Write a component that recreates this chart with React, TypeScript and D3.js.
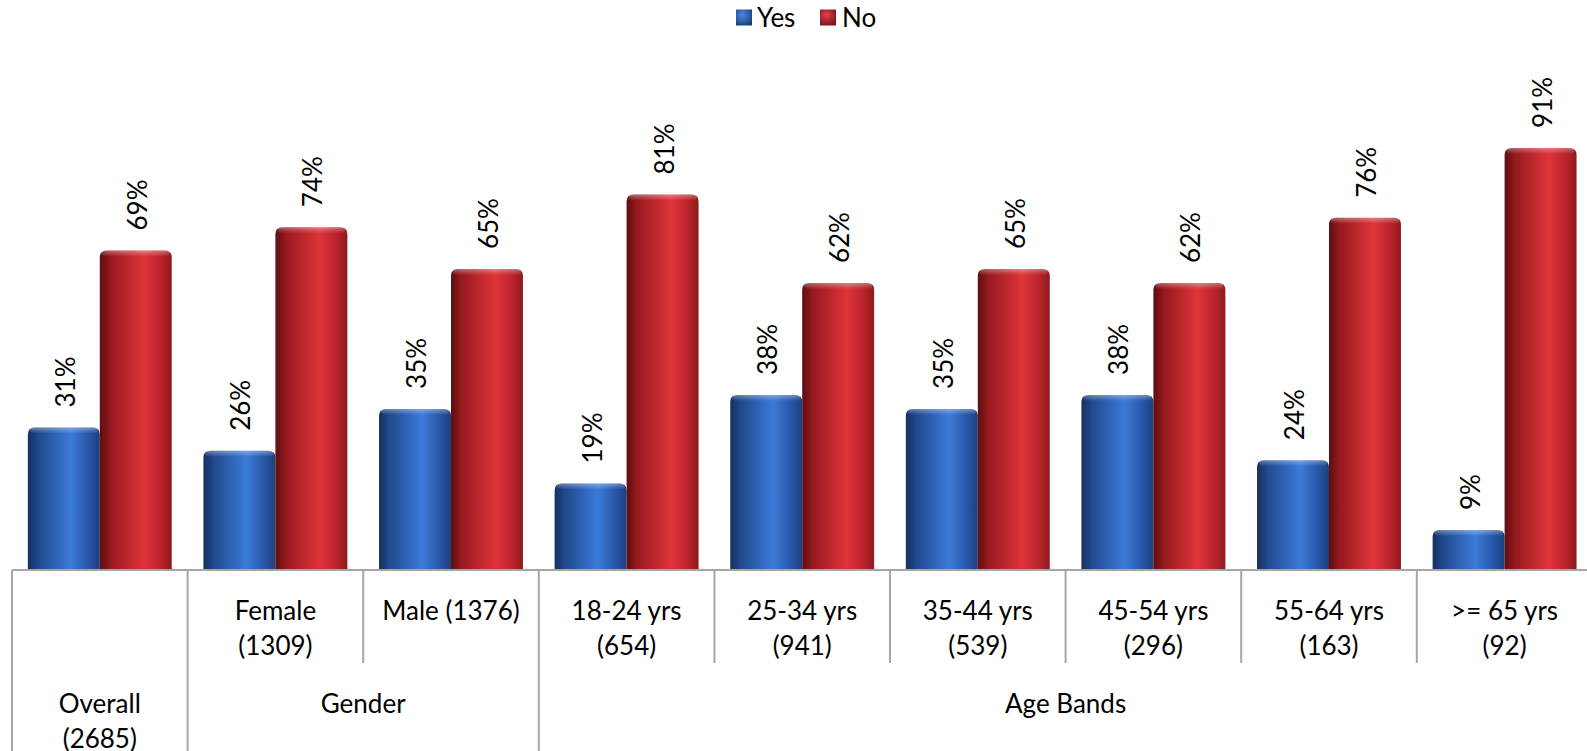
import * as d3 from 'd3'

const categories = ['Overall', 'Female', 'Male', '18-24', '25-34', '35-44', '45-54', '55-64', '>=65']
const tickLines: string[][] = [
  [],
  ['Female', '(1309)'],
  ['Male (1376)'],
  ['18-24 yrs', '(654)'],
  ['25-34 yrs', '(941)'],
  ['35-44 yrs', '(539)'],
  ['45-54 yrs', '(296)'],
  ['55-64 yrs', '(163)'],
  ['>= 65 yrs', '(92)'],
]
const groups = [
  { lines: ['Overall', '(2685)'], from: 0, to: 0 },
  { lines: ['Gender'], from: 1, to: 2 },
  { lines: ['Age Bands'], from: 3, to: 8 },
]
const series = ['Yes', 'No']
const yesValues = [31, 26, 35, 19, 38, 35, 38, 24, 9]
const noValues = [69, 74, 65, 81, 62, 65, 62, 76, 91]

const W = 1587
const H = 751
const FONT = "Lato, 'Open Sans', sans-serif"

export default function App() {
  const baseY = 570
  const x0 = d3.scaleBand<number>().domain(d3.range(categories.length)).range([12, 1592.4]).paddingInner(0)
  const x1 = d3.scaleBand<string>().domain(series).range([0, x0.bandwidth()]).paddingOuter(0.22).paddingInner(0)
  const y = d3.scaleLinear().domain([0, 100]).range([572, 106])
  const bw = x1.bandwidth()
  const values: Record<string, number[]> = { Yes: yesValues, No: noValues }

  const barPath = (x: number, top: number, w: number) => {
    const r = 7
    return `M${x},${baseY} L${x},${top + r} Q${x},${top} ${x + r},${top} L${x + w - r},${top} Q${x + w},${top} ${x + w},${top + r} L${x + w},${baseY} Z`
  }

  const row1Y = 620
  const row2Y = 713
  const lineH = 35

  return (
    <svg width={W} height={H} style={{ position: 'absolute', left: 0, top: 0 }} fontFamily={FONT}>
      <defs>
        <linearGradient id="gYes" x1="0" x2="1" y1="0" y2="0">
          <stop offset="0" stopColor="#15305e" />
          <stop offset="0.15" stopColor="#214a8e" />
          <stop offset="0.6" stopColor="#3b7bd9" />
          <stop offset="0.85" stopColor="#2756a6" />
          <stop offset="1" stopColor="#1c3f7c" />
        </linearGradient>
        <linearGradient id="gNo" x1="0" x2="1" y1="0" y2="0">
          <stop offset="0" stopColor="#5e0e10" />
          <stop offset="0.15" stopColor="#961a1e" />
          <stop offset="0.62" stopColor="#e0343a" />
          <stop offset="0.85" stopColor="#b9242a" />
          <stop offset="1" stopColor="#8e1a1e" />
        </linearGradient>
        <radialGradient id="lYes" cx="0.4" cy="0.35" r="0.7">
          <stop offset="0" stopColor="#4a8ae6" />
          <stop offset="1" stopColor="#1c3f7c" />
        </radialGradient>
        <radialGradient id="lNo" cx="0.4" cy="0.35" r="0.7">
          <stop offset="0" stopColor="#e04048" />
          <stop offset="1" stopColor="#7e1418" />
        </radialGradient>
        <linearGradient id="gCap" x1="0" x2="0" y1="0" y2="1">
          <stop offset="0" stopColor="#ffffff" stopOpacity="0.35" />
          <stop offset="1" stopColor="#ffffff" stopOpacity="0" />
        </linearGradient>
      </defs>

      {/* legend */}
      <g fontSize={26}>
        <rect x={736} y={9.5} width={16} height={16} fill="url(#lYes)" />
        <text x={757} y={27} fill="#000">Yes</text>
        <rect x={820} y={9.5} width={16} height={16} fill="url(#lNo)" />
        <text x={842} y={27} fill="#000">No</text>
      </g>

      {/* bars */}
      {categories.map((c, i) => (
        <g key={c} transform={`translate(${x0(i)},0)`}>
          {series.map(s => {
            const v = values[s][i]
            const bx = x1(s)!
            const top = y(v)
            return (
              <g key={s}>
                <path d={barPath(bx, top, bw)} fill={s === 'Yes' ? 'url(#gYes)' : 'url(#gNo)'} />
                <rect x={bx + 2} y={top} width={bw - 4} height={6} rx={3} fill="url(#gCap)" />
                <text
                  transform={`translate(${bx + bw / 2 + 1},${top - 20}) rotate(-90)`}
                  fontSize={26}
                  dominantBaseline="central"
                  fill="#000"
                >
                  {v}%
                </text>
              </g>
            )
          })}
        </g>
      ))}

      {/* category axis */}
      <line x1={12} x2={W} y1={baseY} y2={baseY} stroke="#a6a6a6" strokeWidth={2} />
      {d3.range(categories.length + 1).map(i => {
        const xx = i < categories.length ? x0(i)! : x0(categories.length - 1)! + x0.bandwidth()
        const isGroupEdge = groups.some(g => g.from === i) || i === categories.length
        return (
          <line key={i} x1={xx} x2={xx} y1={baseY} y2={isGroupEdge ? H : 663} stroke="#a6a6a6" strokeWidth={2} />
        )
      })}
      <g fontSize={26} textAnchor="middle" fill="#000">
        {tickLines.map((lines, i) => (
          <text key={i} x={x0(i)! + x0.bandwidth() / 2} y={row1Y}>
            {lines.map((l, j) => (
              <tspan key={j} x={x0(i)! + x0.bandwidth() / 2} y={row1Y + j * lineH}>{l}</tspan>
            ))}
          </text>
        ))}
        {groups.map(g => {
          const cx = (x0(g.from)! + x0(g.to)! + x0.bandwidth()) / 2
          return (
            <text key={g.lines[0]} x={cx} y={row2Y}>
              {g.lines.map((l, j) => (
                <tspan key={j} x={cx} y={row2Y + j * lineH}>{l}</tspan>
              ))}
            </text>
          )
        })}
      </g>
    </svg>
  )
}
